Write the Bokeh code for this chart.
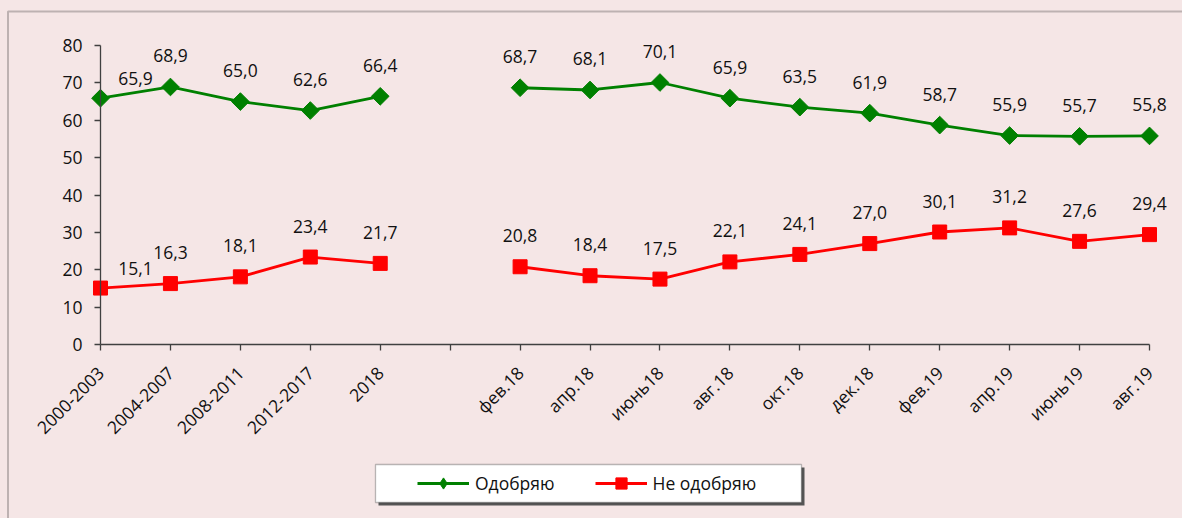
import math
from bokeh.plotting import figure
from bokeh.models import (Range1d, FixedTicker, Legend, LegendItem, BoxAnnotation,
                          ColumnDataSource)
from bokeh.core.properties import value
from bokeh.embed import file_html
from bokeh.resources import INLINE

categories = ["2000-2003", "2004-2007", "2008-2011", "2012-2017", "2018", "",
              "фев.18", "апр.18", "июнь18", "авг.18", "окт.18", "дек.18",
              "фев.19", "апр.19", "июнь19", "авг.19"]
approve = [65.9, 68.9, 65.0, 62.6, 66.4, None, 68.7, 68.1, 70.1, 65.9, 63.5,
           61.9, 58.7, 55.9, 55.7, 55.8]
disapprove = [15.1, 16.3, 18.1, 23.4, 21.7, None, 20.8, 18.4, 17.5, 22.1, 24.1,
              27.0, 30.1, 31.2, 27.6, 29.4]
y_ticks = [0, 10, 20, 30, 40, 50, 60, 70, 80]

FONT = "Open Sans"
BG = "#F5E6E6"
GREEN = "#008000"
RED = "#FF0000"

W, H = 1182, 518
# plot-area placement in pixels (axis origin / far corners)
PX0, PX1, PY0, PY1 = 100, 1149, 344, 45

xs = list(range(len(categories)))
nx = len(categories) - 1
ymax = y_ticks[-1]
kx = (PX1 - PX0) / nx
ky = (PY0 - PY1) / ymax

p = figure(width=W, height=H, output_backend="svg", toolbar_location=None,
           x_range=Range1d(-PX0 / kx, nx + (W - PX1) / kx),
           y_range=Range1d(-(H - PY0) / ky, ymax + PY1 / ky),
           min_border=0)
p.background_fill_color = BG
p.border_fill_color = BG
p.outline_line_color = None
p.xgrid.grid_line_color = None
p.ygrid.grid_line_color = None

# axes
p.xaxis.ticker = FixedTicker(ticks=xs)
p.xaxis.major_label_overrides = {i: c for i, c in enumerate(categories)}
p.xaxis.major_label_orientation = math.pi / 4
p.xaxis.bounds = (0, nx)
p.xaxis.fixed_location = 0
p.yaxis.ticker = FixedTicker(ticks=y_ticks)
p.yaxis.bounds = (0, ymax)
p.yaxis.fixed_location = 0
for ax in (p.xaxis[0], p.yaxis[0]):
    ax.axis_line_color = "#404040"
    ax.axis_line_width = 1.3
    ax.major_tick_line_color = "#404040"
    ax.major_tick_line_width = 1.3
    ax.major_tick_in = 0
    ax.major_tick_out = 6
    ax.minor_tick_line_color = None
    ax.major_label_text_font = FONT
    ax.major_label_text_font_size = "17.5px"
    ax.major_label_text_color = "#111111"
p.yaxis.major_label_standoff = 12
p.xaxis.major_label_standoff = 19

def to_nan(vals):
    return [float("nan") if v is None else v for v in vals]

# outer chart border
p.add_layout(BoxAnnotation(left=7.5, right=1400, top=11, bottom=1000,
                           left_units="canvas", right_units="canvas",
                           top_units="canvas", bottom_units="canvas",
                           fill_alpha=0, line_color="#3a3a3a", line_width=2))

series = [("Одобряю", approve, GREEN, "square", 12.5, math.pi / 4, "diamond"),
          ("Не одобряю", disapprove, RED, "square", 14, 0, "square")]

items = []
for name, vals, col, marker, size, ang, leg_marker in series:
    src = ColumnDataSource(dict(x=xs, y=to_nan(vals)))
    ln = p.line("x", "y", source=src, line_color=col, line_width=2.8)
    p.scatter("x", "y", source=src, marker=marker, size=size, angle=ang,
              fill_color=col, line_color=col)
    # legend-only marker: a single undrawable (NaN) row, shown only in the legend
    lm = p.scatter(x=[float("nan")], y=[float("nan")], marker=leg_marker,
                   size=size, fill_color=col, line_color=col)
    items.append(LegendItem(label=name, renderers=[ln, lm]))
    lx = [x for x, v in zip(xs, vals) if v is not None]
    lv = [v for v in vals if v is not None]
    lab = dict(x=lx, y=lv,
               t=[f"{v:.1f}".replace(".", ",") for v in lv],
               xo=[35 if x == 0 else 0 for x in lx],
               yo=[-20 if x == 0 else -31 for x in lx])
    p.text("x", "y", text="t", source=ColumnDataSource(lab), x_offset="xo",
           y_offset="yo", text_align="center", text_baseline="middle",
           text_font=value(FONT), text_font_size="17.5px", text_color="#111111")

# legend shadow and box
p.add_layout(BoxAnnotation(left=378, right=804, top=467, bottom=505,
                           left_units="canvas", right_units="canvas",
                           top_units="canvas", bottom_units="canvas",
                           fill_color="#555555", fill_alpha=1, line_alpha=0))
p.add_layout(BoxAnnotation(left=375, right=801, top=464, bottom=502,
                           left_units="canvas", right_units="canvas",
                           top_units="canvas", bottom_units="canvas",
                           fill_color="white", fill_alpha=1, line_color="#222222",
                           line_width=1.3))

legend = Legend(items=items, orientation="horizontal", location=(417, 21),
                background_fill_alpha=0, border_line_color=None, padding=0,
                margin=0, spacing=40, glyph_width=52, glyph_height=28,
                label_standoff=6, label_height=28,
                label_text_font=FONT, label_text_font_size="17.5px",
                label_text_color="#111111")
p.add_layout(legend, "center")

html = file_html(p, INLINE)
html = html.replace("<head>", "<head><style>body{background:#F5E6E6;}</style>", 1)
open("out.html", "w").write(html)
